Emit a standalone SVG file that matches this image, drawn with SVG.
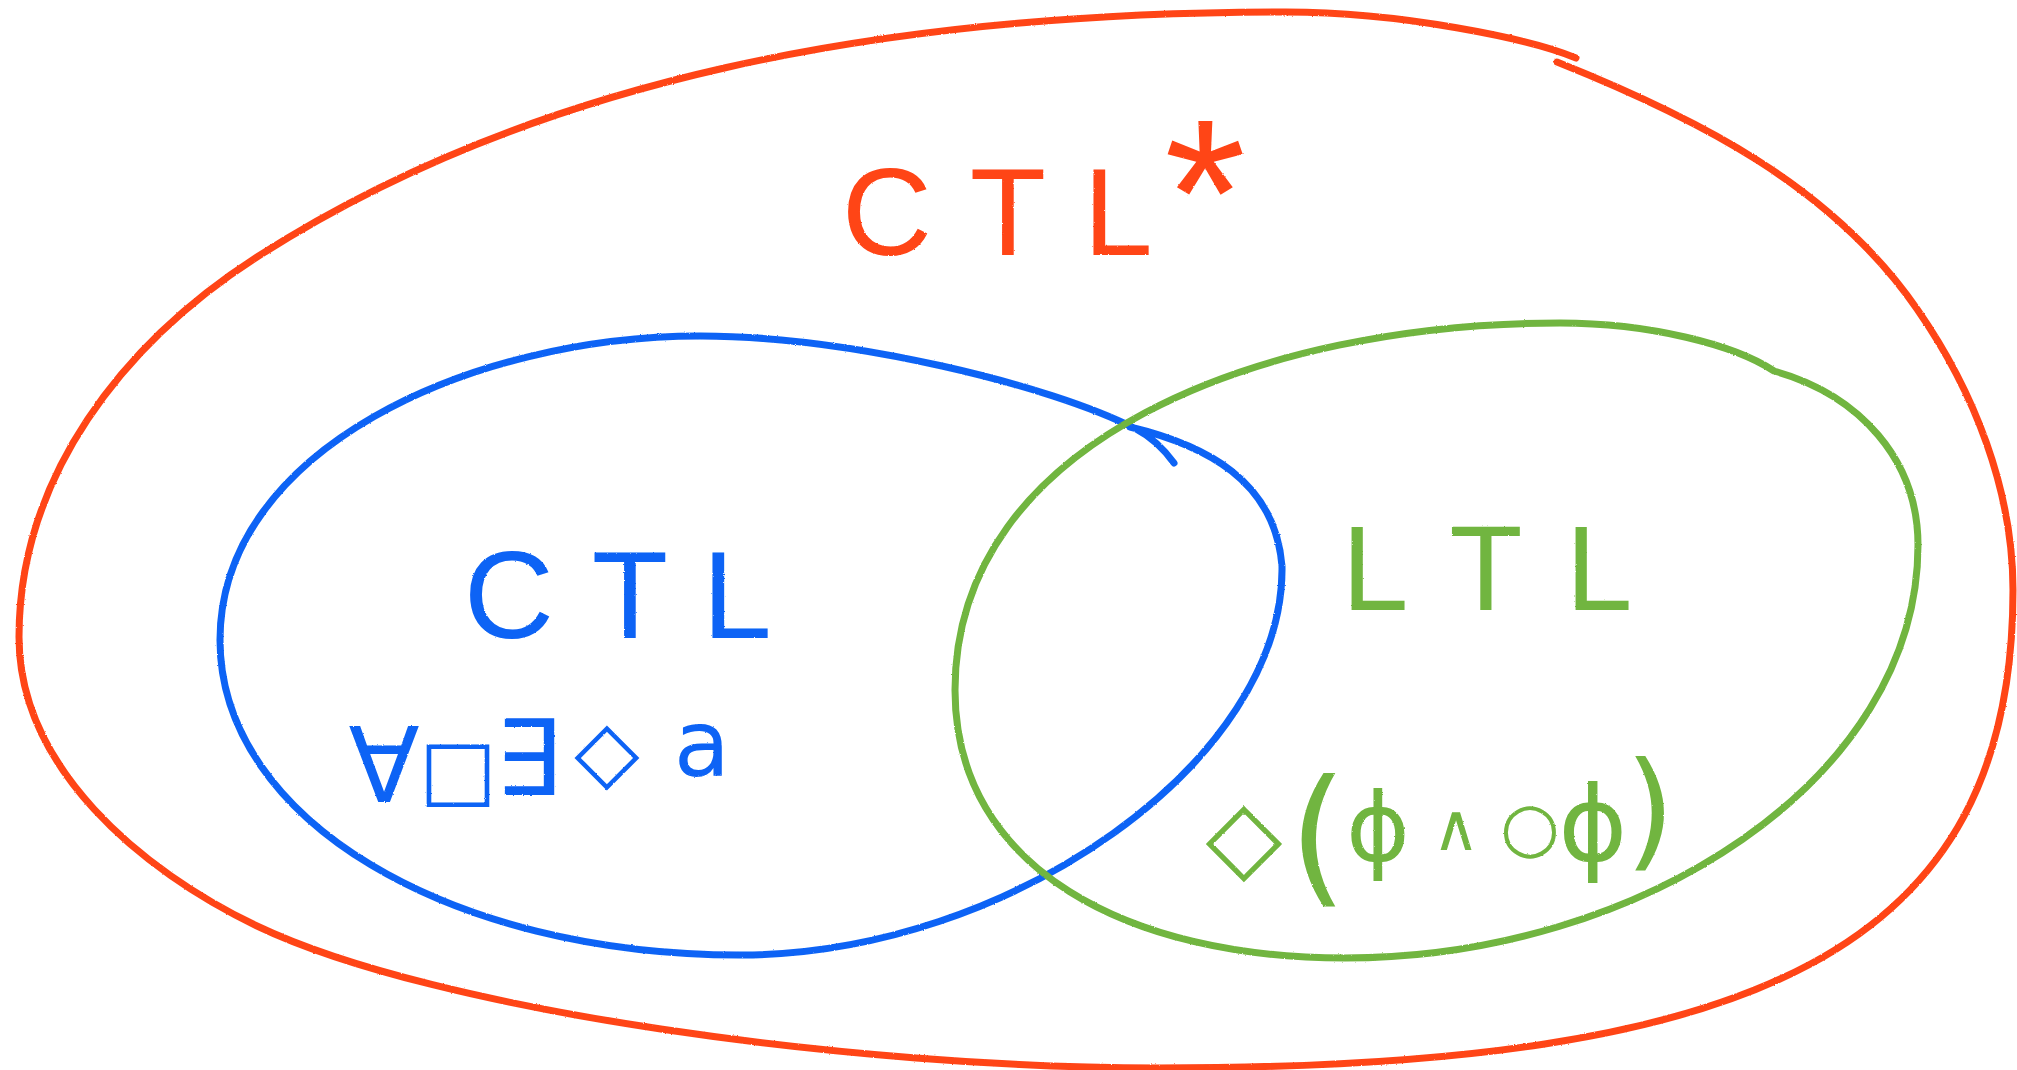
<svg xmlns="http://www.w3.org/2000/svg" width="2017" height="1070" viewBox="0 0 2017 1070">
<defs>
<filter id="crayon" x="-2%" y="-2%" width="104%" height="104%">
<feTurbulence type="fractalNoise" baseFrequency="0.9" numOctaves="1" seed="3" result="n"/>
<feDisplacementMap in="SourceGraphic" in2="n" scale="2.2" xChannelSelector="R" yChannelSelector="G"/>
</filter>
</defs>
<style>
.hand{fill:none;stroke-width:7;stroke-linecap:round;stroke-linejoin:round}
.red{stroke:#ff4419}.blue{stroke:#0d63f5}.green{stroke:#71b53f}
.tred{fill:#ff4419}.tblue{fill:#0d63f5}.tgreen{fill:#71b53f}
.lbl{font-family:"Liberation Sans",Arial,sans-serif;text-anchor:middle}
.fml{font-family:"DejaVu Sans",sans-serif;text-anchor:middle}
</style>
<rect width="2017" height="1070" fill="#ffffff"/>
<g id="ctlstar" filter="url(#crayon)">
<path class="hand red" d="M1557,62 C1697,118 1832,186 1917,309 C1974,391 2013,490 2013,590 C2013,950 1758,1068 1158,1068 C858,1068 437,1012 257,926 C140,870 19,767 19,637 C19,477 122.6,343.4 257,257 C534,79 886,12 1286,12 C1400,12 1530,38.5 1576,58"/>
<text class="lbl tred" y="255" font-size="125"><tspan x="887">C</tspan><tspan x="1008">T</tspan><tspan x="1118">L</tspan><tspan x="1205" y="265" font-size="210">*</tspan></text>
</g>
<g id="ctl" filter="url(#crayon)">
<path class="hand blue" d="M1130,427 C1205,445 1275,480 1282,566 C1285,760 1010,955 740,955 C450,955 220,820 220,640 C220,450 470,336 700,336 C850,336 1050,385 1136,429 C1155,439 1166,452 1174,463"/>
<text class="lbl tblue" y="638" font-size="125"><tspan x="509">C</tspan><tspan x="630">T</tspan><tspan x="737">L</tspan></text>
<text class="fml tblue"><tspan x="384" y="802" font-size="104">∀</tspan><tspan x="458" y="797" font-size="82">□</tspan><tspan x="528" y="795" font-size="105">∃</tspan><tspan x="607" y="780" font-size="85">◇</tspan><tspan x="702" y="776" font-size="92">a</tspan></text>
</g>
<g id="ltl" filter="url(#crayon)">
<path class="hand green" d="M1560,323 C1650,323 1735,345 1774,371 C1860,395 1918,460 1918,545 C1918,780 1640,958 1345,958 C1130,958 955,870 955,690 C955,440 1260,323 1560,323 Z"/>
<text class="lbl tgreen" y="610" font-size="120"><tspan x="1375">L</tspan><tspan x="1486">T</tspan><tspan x="1599">L</tspan></text>
<text class="fml tgreen"><tspan x="1244" y="870" font-size="100">◇</tspan><tspan x="1318" y="887" font-size="150">(</tspan><tspan x="1378" y="861" font-size="97">ϕ</tspan><tspan x="1456" y="850" font-size="65">∧</tspan><tspan x="1530" y="850" font-size="68">○</tspan><tspan x="1593" y="861" font-size="105">ϕ</tspan><tspan x="1650" y="854" font-size="128">)</tspan></text>
</g>
<g id="connectors"></g>
</svg>
